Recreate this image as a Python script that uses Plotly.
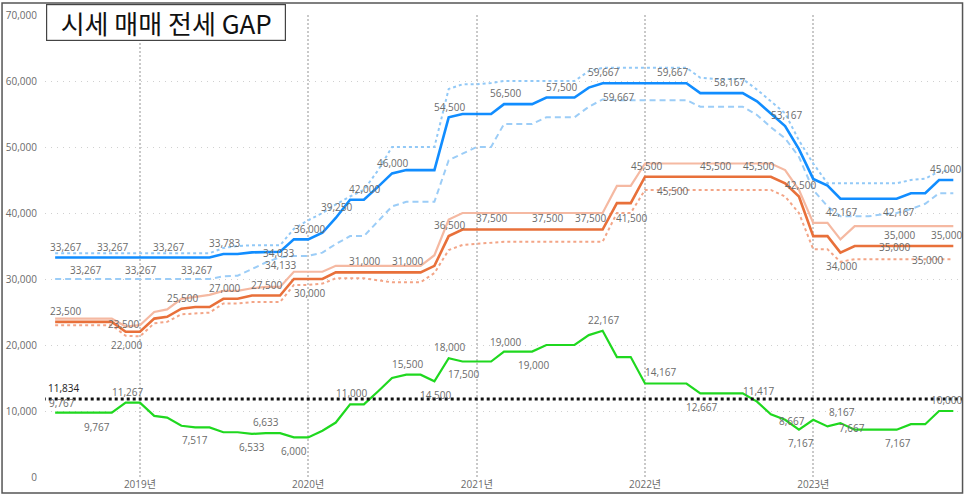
import pandas as pd
import plotly.graph_objects as go

# ---------------- data ----------------
dates = pd.date_range("2018-07-01", periods=65, freq="MS")

sale_mid = [33267, 33267, 33267, 33267, 33267, 33267, 33267, 33267, 33267, 33267, 33267, 33267,
            33783, 33783, 34033, 34133, 34133, 36000, 36000, 37000, 39250, 42000, 42000, 44000,
            46000, 46500, 46500, 46500, 54500, 55000, 55000, 55000, 56500, 56500, 56500, 57500,
            57500, 57500, 59000, 59667, 59667, 59667, 59667, 59667, 59667, 59667, 58167, 58167,
            58167, 58167, 56917, 55000, 53167, 49667, 45167, 44167, 42167, 42167, 42167, 42167,
            42167, 43000, 43000, 45000, 45000]

sale_hi = [33900, 33900, 33900, 33900, 33900, 33900, 33900, 33900, 33900, 33900, 33900, 33900,
           34700, 35000, 35100, 35100, 35100, 37600, 38900, 40000, 41300, 42500, 43500, 46500,
           50000, 50000, 50000, 50000, 58800, 59500, 59500, 59700, 60000, 60000, 60000, 60000,
           60000, 60000, 61500, 62000, 62000, 62000, 62000, 62000, 62000, 62000, 60500, 60300,
           60300, 60300, 58700, 57000, 55100, 51000, 47500, 44500, 44500, 44500, 44500, 44500,
           44500, 45000, 45200, 46300, 46500]

sale_lo = [30000, 30000, 30000, 30000, 30000, 30000, 30000, 30000, 30000, 30000, 30000, 30000,
           30400, 30500, 31500, 32500, 33300, 33500, 33500, 34000, 35300, 36500, 36500, 38800,
           41000, 41700, 41700, 41700, 48000, 49000, 50000, 50000, 53500, 53500, 53500, 54500,
           54500, 54500, 56100, 57200, 57100, 57100, 57100, 57100, 57100, 57100, 56100, 56100,
           56100, 56100, 54850, 53000, 51300, 48500, 43500, 41000, 39500, 39500, 39500, 39800,
           40000, 40600, 41400, 43000, 43000]

jeonse_mid = [23500, 23500, 23500, 23500, 23500, 22000, 22000, 24000, 24267, 25500, 25750, 25750,
              27000, 27000, 27500, 27500, 27500, 30000, 30000, 30000, 31000, 31000, 31000, 31000,
              31000, 31000, 31000, 32000, 36500, 37500, 37500, 37500, 37500, 37500, 37500, 37500,
              37500, 37500, 37500, 37500, 41500, 41500, 45500, 45500, 45500, 45500, 45500, 45500,
              45500, 45500, 45500, 45500, 44500, 42500, 36500, 36500, 34000, 35000, 35000, 35000,
              35000, 35000, 35000, 35000, 35000]

jeonse_hi = [24000, 24000, 24000, 24000, 24000, 22800, 23000, 25000, 25400, 27000, 27300, 27600,
             28200, 28200, 28600, 28800, 28800, 31100, 31100, 31100, 32000, 32000, 32000, 32000,
             32000, 32000, 32000, 33600, 39000, 40000, 40000, 40000, 40000, 40000, 40000, 40000,
             40000, 40000, 40000, 40000, 44100, 44100, 47500, 47500, 47500, 47500, 47500, 47500,
             47500, 47500, 47500, 47500, 46500, 43500, 38500, 38500, 36000, 38000, 38000, 38000,
             38000, 38000, 38000, 38000, 38000]

jeonse_lo = [23000, 23000, 23000, 23000, 23000, 21400, 21300, 23300, 23500, 24650, 24800, 24900,
             26300, 26300, 26500, 26500, 26500, 29100, 29100, 29300, 30100, 30100, 30100, 29800,
             29500, 29500, 29500, 30900, 34400, 35150, 35300, 35500, 35650, 35650, 35650, 35650,
             35650, 35650, 35650, 35650, 40000, 40000, 43500, 43500, 43500, 43500, 43500, 43500,
             43500, 43500, 43500, 43500, 42500, 40000, 34500, 34500, 32600, 33000, 33000, 33000,
             33000, 33000, 33000, 33000, 33000]

gap = [9767, 9767, 9767, 9767, 9767, 11267, 11267, 9267, 9000, 7767, 7517, 7517,
       6783, 6783, 6533, 6633, 6633, 6000, 6000, 7000, 8250, 11000, 11000, 13000,
       15000, 15500, 15500, 14500, 18000, 17500, 17500, 17500, 19000, 19000, 19000, 20000,
       20000, 20000, 21500, 22167, 18167, 18167, 14167, 14167, 14167, 14167, 12667, 12667,
       12667, 12667, 11417, 9500, 8667, 7167, 8667, 7667, 8167, 7167, 7167, 7167,
       7167, 8000, 8000, 10000, 10000]

gap_avg = 11834

year_ticks = ["2019-01-01", "2020-01-01", "2021-01-01", "2022-01-01", "2023-01-01"]
year_labels = ["2019년", "2020년", "2021년", "2022년", "2023년"]
y_ticks = [0, 10000, 20000, 30000, 40000, 50000, 60000, 70000]

# data labels: (text, month position, value position, dark?)
labels = [
    ("33,267", 0.71, 34900, 0), ("33,267", 4.07, 34850, 0), ("33,267", 8.06, 34850, 0),
    ("33,783", 12.05, 35455, 0), ("34,033", 15.91, 33939, 0), ("36,000", 18.12, 37576, 0),
    ("33,267", 2.14, 31364, 0), ("33,267", 6.06, 31364, 0), ("33,267", 10.06, 31364, 0),
    ("34,133", 16.05, 32121, 0), ("23,500", 0.71, 25152, 0), ("23,500", 4.85, 23227, 0),
    ("25,500", 9.06, 27121, 0), ("27,000", 12.05, 28682, 0), ("27,500", 15.05, 29091, 0),
    ("30,000", 18.12, 27924, 0), ("22,000", 5.06, 20000, 0), ("11,834", 0.57, 13439, 1),
    ("9,767", 0.50, 11258, 0), ("11,267", 5.14, 12924, 0), ("9,767", 3.0, 7621, 0),
    ("7,517", 9.99, 5606, 0), ("6,533", 14.05, 4500, 0), ("6,633", 15.05, 8288, 0),
    ("6,000", 17.05, 3985, 0), ("46,000", 24.04, 47621, 0), ("54,500", 28.1, 56106, 0),
    ("56,500", 32.1, 58136, 0), ("57,500", 36.09, 59136, 0), ("59,667", 39.09, 61409, 0),
    ("59,667", 40.16, 57621, 0), ("39,250", 20.04, 40864, 0), ("42,000", 22.04, 43636, 0),
    ("31,000", 22.04, 32773, 0), ("31,000", 25.11, 32773, 0), ("36,500", 28.1, 38182, 0),
    ("37,500", 31.1, 39197, 0), ("37,500", 35.09, 39197, 0), ("37,500", 38.16, 39197, 0),
    ("41,500", 41.08, 39300, 0), ("22,167", 39.09, 23788, 0), ("11,000", 21.11, 12682, 0),
    ("15,500", 25.11, 17121, 0), ("14,500", 27.1, 12424, 0), ("18,000", 28.1, 19742, 0),
    ("17,500", 29.1, 15561, 0), ("19,000", 32.1, 20500, 0), ("19,000", 34.09, 16970, 0),
    ("59,667", 44.01, 61409, 0), ("58,167", 48.07, 59894, 0), ("53,167", 52.14, 54848, 0),
    ("45,500", 42.15, 47167, 0), ("45,500", 47.08, 47167, 0), ("45,500", 50.14, 47167, 0),
    ("45,000", 63.41, 46667, 0), ("45,500", 44.01, 43379, 0), ("42,500", 53.14, 44242, 0),
    ("42,167", 56.06, 40106, 0), ("42,167", 60.06, 40106, 0), ("35,000", 60.13, 36667, 0),
    ("35,000", 63.48, 36667, 0), ("35,000", 59.84, 34803, 0), ("35,000", 62.13, 32879, 0),
    ("34,000", 56.06, 31970, 0), ("14,167", 43.15, 15864, 0), ("12,667", 46.08, 10561, 0),
    ("11,417", 50.14, 13030, 0), ("8,667", 52.5, 8485, 0), ("7,167", 53.14, 5106, 0),
    ("8,167", 56.06, 9894, 0), ("7,667", 56.77, 7470, 0), ("7,167", 60.06, 5106, 0),
    ("10,000", 63.48, 11667, 0),
]

# ---------------- figure ----------------
fig = go.Figure()

def add_line(y, color, width, dash="solid"):
    fig.add_trace(go.Scatter(x=dates, y=y, mode="lines",
                             line=dict(color=color, width=width, dash=dash),
                             hoverinfo="skip", showlegend=False))

add_line(sale_hi, "#92C9F7", 2, "dot")
add_line(sale_lo, "#9CCDF7", 2, "6px,4px")
add_line(jeonse_hi, "#F5B9A2", 2.2)
add_line(jeonse_lo, "#F3A587", 2, "dot")
add_line(sale_mid, "#118DFF", 2.6)
add_line(jeonse_mid, "#E8703A", 2.6)
add_line(gap, "#1FD81F", 2.2)

fig.add_trace(go.Scatter(x=[dates[0] - pd.Timedelta(days=40), dates[-1] + pd.Timedelta(days=40)],
                         y=[gap_avg, gap_avg], mode="lines",
                         line=dict(color="#111111", width=3, dash="dot"),
                         hoverinfo="skip", showlegend=False))

step_days = (dates[-1] - dates[0]).days / (len(dates) - 1)
for text, mi, yv, dark in labels:
    fig.add_annotation(x=dates[0] + pd.Timedelta(days=mi * step_days), y=yv, text=text,
                       showarrow=False, xanchor="center", yanchor="middle",
                       font=dict(family="Open Sans, Noto Sans, sans-serif", size=10,
                                 color="#222222" if dark else "#6b6b6b"))

# title box
fig.add_annotation(xref="paper", yref="paper", x=0.001, y=1.0238, xanchor="left", yanchor="top",
                   text="시세 매매 전세 GAP", showarrow=False,
                   font=dict(family="Noto Sans CJK KR", size=26, color="#111111"),
                   bgcolor="white", bordercolor="#444444", borderwidth=1.2,
                   width=236, height=33, align="center")

# outer frame
fig.add_shape(type="rect", xref="paper", yref="paper",
              x0=-0.0468, x1=0.9995, y0=-0.0346, y1=1.026,
              line=dict(color="#555555", width=1.5), layer="above")

fig.update_layout(
    width=966, height=498,
    margin=dict(l=45, r=3, t=15, b=21),
    paper_bgcolor="white", plot_bgcolor="white",
    showlegend=False, hovermode=False,
    xaxis=dict(type="date", range=["2018-06-09", "2023-11-22"],
               tickvals=year_ticks, ticktext=year_labels,
               showgrid=True, gridcolor="#c9c9c9", gridwidth=2, griddash="2px,2px",
               zeroline=False, showline=False, ticks="",
               tickfont=dict(family="Open Sans, Noto Sans CJK KR", size=10, color="#6b6b6b")),
    yaxis=dict(range=[0, 70000], tickvals=y_ticks, tickformat=",d",
               showgrid=True, gridcolor="#d0d0d0", gridwidth=1, griddash="1px,5px",
               zeroline=False, showline=False, ticks="outside", ticklen=5,
               tickcolor="rgba(0,0,0,0)",
               tickfont=dict(family="Open Sans, Noto Sans", size=10, color="#6b6b6b")),
)

fig.write_html("out.html", config={"displayModeBar": False, "staticPlot": True},
               post_script="document.body.style.margin='0';")
